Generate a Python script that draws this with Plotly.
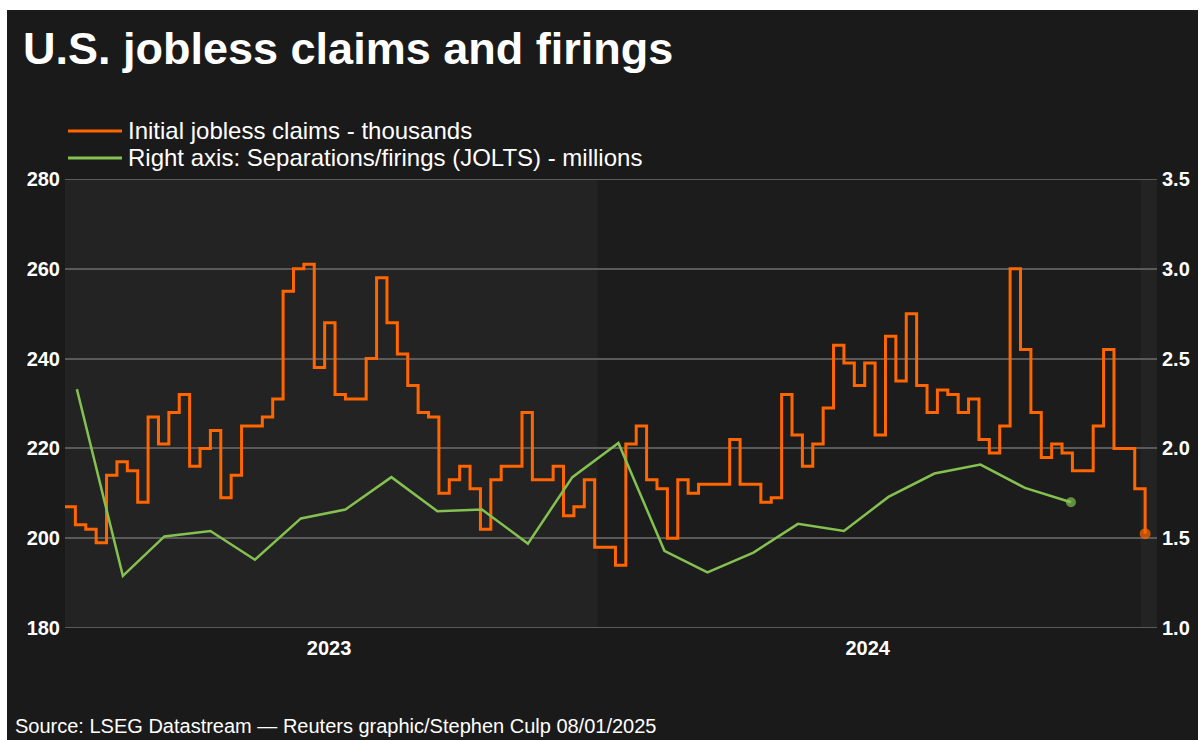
import plotly.graph_objects as go
import pandas as pd

# ---------------- data ----------------
claims_start = "2023-01-07"   # weekly, week-ending Saturdays
claims = [207, 203, 202, 199, 214, 217, 215, 208, 227, 221,
          228, 232, 216, 220, 224, 209, 214, 225, 225, 227,
          231, 255, 260, 261, 238, 248, 232, 231, 231, 240,
          258, 248, 241, 234, 228, 227, 210, 213, 216, 211,
          202, 213, 216, 216, 228, 213, 213, 216, 205, 207,
          213, 198, 198, 194, 221, 225, 213, 211, 200, 213,
          210, 212, 212, 212, 222, 212, 212, 208, 209, 232,
          223, 216, 221, 229, 243, 239, 234, 239, 223, 245,
          235, 250, 234, 228, 233, 232, 228, 231, 222, 219,
          225, 260, 242, 228, 218, 221, 219, 215, 215, 225,
          242, 220, 220, 211, 201]

jolts_months = pd.date_range("2023-01-01", periods=23, freq="MS") + pd.Timedelta(days=14)
jolts = [2.33, 1.29, 1.51, 1.54, 1.38, 1.61, 1.66, 1.84, 1.65, 1.66, 1.47, 1.84,
         2.03, 1.43, 1.31, 1.42, 1.58, 1.54, 1.73, 1.86, 1.91, 1.78, 1.70]

claims_dates = pd.date_range(claims_start, periods=len(claims), freq="7D")

year_tick_vals = ["2023-07-04", "2024-07-01"]
year_tick_text = ["2023", "2024"]

x_range = ["2023-01-07", "2025-01-12"]
left_range = [180, 280]
right_range = [1.0, 3.5]

title_text = "U.S. jobless claims and firings"
legend_names = ["Initial jobless claims - thousands",
                "Right axis: Separations/firings (JOLTS) - millions"]
source_text = "Source: LSEG Datastream \u2014 Reuters graphic/Stephen Culp 08/01/2025"

ORANGE = "#ff6600"
GREEN = "#84c150"
PAPER = "#1a1a1a"
PLOT = "#1c1c1c"
BAND = "#232323"
GRID = "#5a5a5a"
TXT = "#ffffff"
FONT = "Liberation Sans, Arial, sans-serif"

# ---------------- layout helpers ----------------
W, H = 1204, 740
L, R, T, B = 65, 47, 179, 112
PW = W - L - R
PH = H - T - B


def px(x):
    return (x - L) / PW


def py(y):
    return 1 - (y - T) / PH


fig = go.Figure()

fig.add_trace(go.Scatter(
    x=claims_dates, y=claims, mode="lines+markers",
    line=dict(color=ORANGE, width=3, shape="hv"),
    marker=dict(size=[0] * (len(claims) - 1) + [11], color=ORANGE,
                line=dict(width=0)),
    showlegend=False, hoverinfo="x+y", cliponaxis=False,
))

fig.add_trace(go.Scatter(
    x=jolts_months, y=jolts, mode="lines+markers", yaxis="y2",
    line=dict(color=GREEN, width=2.5),
    marker=dict(size=[0] * (len(jolts) - 1) + [10], color=GREEN,
                line=dict(width=0)),
    showlegend=False, hoverinfo="x+y",
))

shapes = [
    # year bands
    dict(type="rect", xref="x", yref="paper", x0=x_range[0], x1="2024-01-01",
         y0=0, y1=1, fillcolor=BAND, line_width=0, layer="below"),
    dict(type="rect", xref="x", yref="paper", x0="2025-01-01", x1=x_range[1],
         y0=0, y1=1, fillcolor=BAND, line_width=0, layer="below"),
    # edge gridlines (top and bottom of the left-axis range)
    dict(type="line", xref="paper", yref="y", x0=0, x1=1,
         y0=left_range[0], y1=left_range[0], line=dict(color=GRID, width=2),
         layer="below"),
    dict(type="line", xref="paper", yref="y", x0=0, x1=1,
         y0=left_range[1], y1=left_range[1], line=dict(color=GRID, width=2),
         layer="below"),
    # white page edges
    dict(type="rect", xref="paper", yref="paper", x0=px(0), x1=px(W),
         y0=py(0), y1=py(10), fillcolor="white", line_width=0, layer="above"),
    dict(type="rect", xref="paper", yref="paper", x0=px(0), x1=px(7),
         y0=py(0), y1=py(H), fillcolor="white", line_width=0, layer="above"),
    dict(type="rect", xref="paper", yref="paper", x0=px(1198), x1=px(W),
         y0=py(0), y1=py(H), fillcolor="white", line_width=0, layer="above"),
    # legend samples
    dict(type="line", xref="paper", yref="paper", x0=px(68), x1=px(122),
         y0=py(131), y1=py(131), line=dict(color=ORANGE, width=3)),
    dict(type="line", xref="paper", yref="paper", x0=px(68), x1=px(122),
         y0=py(158), y1=py(158), line=dict(color=GREEN, width=3)),
]

annotations = [
    dict(text="<b>" + title_text + "</b>", xref="paper", yref="paper",
         x=px(21), y=py(48), xanchor="left", yanchor="middle", showarrow=False,
         font=dict(size=45, color=TXT, family=FONT)),
    dict(text=legend_names[0], xref="paper", yref="paper",
         x=px(126), y=py(131), xanchor="left", yanchor="middle", showarrow=False,
         font=dict(size=24, color=TXT, family=FONT)),
    dict(text=legend_names[1], xref="paper", yref="paper",
         x=px(126), y=py(158), xanchor="left", yanchor="middle", showarrow=False,
         font=dict(size=24, color=TXT, family=FONT)),
    dict(text=source_text, xref="paper", yref="paper",
         x=px(13), y=py(726), xanchor="left", yanchor="middle", showarrow=False,
         font=dict(size=20, color=TXT, family=FONT)),
]

tickfont = dict(size=20, color=TXT, family=FONT, weight="bold")

fig.update_layout(
    width=W, height=H,
    margin=dict(l=L, r=R, t=T, b=B, pad=0),
    paper_bgcolor=PAPER, plot_bgcolor=PLOT,
    font=dict(family=FONT, color=TXT),
    shapes=shapes, annotations=annotations,
    showlegend=False,
    xaxis=dict(type="date", range=x_range, showgrid=False, zeroline=False,
               showline=False, ticks="", tickmode="array",
               tickvals=year_tick_vals, ticktext=year_tick_text,
               tickfont=tickfont, ticklabelstandoff=6, fixedrange=True),
    yaxis=dict(range=left_range, dtick=20, tick0=180, showgrid=True,
               gridcolor=GRID, gridwidth=2, zeroline=False, showline=False,
               ticks="", tickfont=tickfont, ticklabelstandoff=4, fixedrange=True),
    yaxis2=dict(range=right_range, dtick=0.5, tick0=1.0, tickformat=".1f",
                overlaying="y", side="right", showgrid=False, zeroline=False,
                showline=False, ticks="", tickfont=tickfont,
                ticklabelstandoff=4, fixedrange=True),
)

fig.write_html("out.html")
